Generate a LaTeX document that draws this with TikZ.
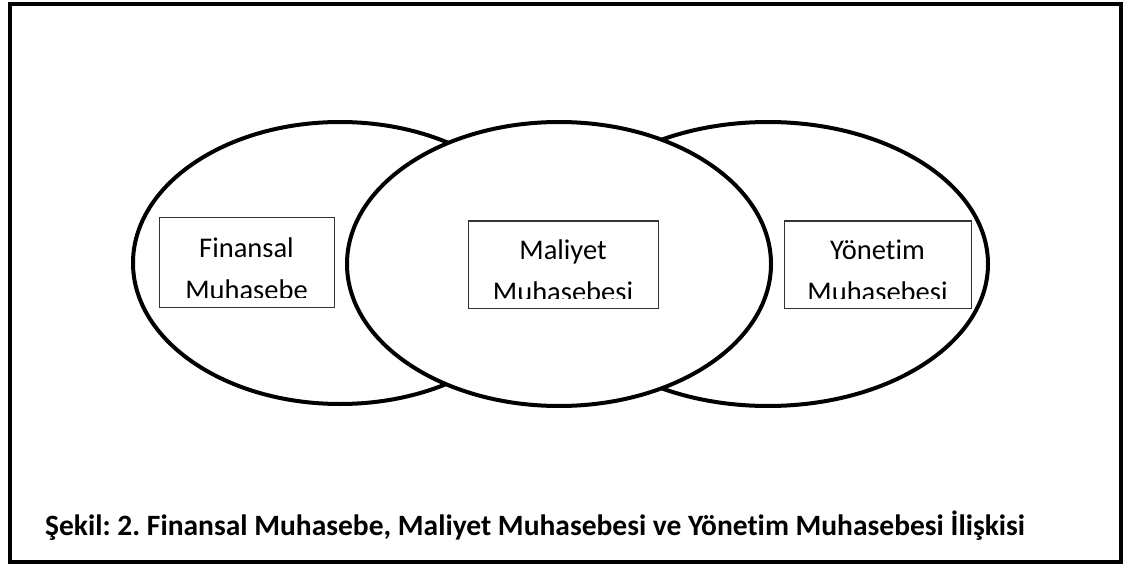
\documentclass[tikz,border=0pt]{standalone}
\usepackage{fontspec}
\setmainfont{Carlito}[Ligatures=NoCommon]
\usetikzlibrary{shapes.geometric}
\frenchspacing
\begin{document}
\begin{tikzpicture}[x=1pt,y=-1pt,
  frame/.style={draw=black,line width=4.5pt},
  oval/.style={ellipse,draw=black,line width=4pt,fill=white,inner sep=0pt},
  labelbox/.style={rectangle,draw=black!80,line width=1pt,fill=white,inner sep=0pt},
  boxtext/.style={anchor=base,inner sep=0pt,font=\fontsize{28.5}{34}\selectfont},
  cover/.style={rectangle,fill=white,inner sep=0pt},
  caption/.style={anchor=base west,inner sep=0pt,font=\fontsize{29.5}{34}\selectfont\bfseries}]
\useasboundingbox (0,0) rectangle (1132,564);

% outer frame
\node[frame,rectangle,inner sep=0pt,minimum width=1111pt,minimum height=558pt] (frame) at (565.5,283) {};

% the three overlapping areas; the middle one lies on top
\node[oval,minimum width=414pt,minimum height=282pt] (finarea) at (340,263) {};
\node[oval,minimum width=440pt,minimum height=284pt] (yonarea) at (768,264) {};
\node[oval,minimum width=424pt,minimum height=284pt] (malarea) at (559,264) {};

% label boxes
\node[labelbox,minimum width=175pt,minimum height=89pt] (finbox) at (246.5,262.5) {};
\node[labelbox,minimum width=190pt,minimum height=87pt] (malbox) at (563,264.5) {};
\node[labelbox,minimum width=187pt,minimum height=87pt] (yonbox) at (877.5,264.5) {};

% box texts, second line trimmed at the bottom like a text frame
\node[boxtext] (fin1) at (246.5,257) {Finansal};
\node[boxtext] (fin2) at (246.5,299) {Muhasebe};
\node[cover,minimum width=173pt,minimum height=9pt,anchor=north] (fincut) at (246.5,297.5) {};

\node[boxtext] (mal1) at (563,259) {Maliyet};
\node[boxtext] (mal2) at (563,301) {Muhasebesi};
\node[cover,minimum width=188pt,minimum height=9pt,anchor=north] (malcut) at (563,298.5) {};

\node[boxtext] (yon1) at (877.5,259) {Yönetim};
\node[boxtext] (yon2) at (877.5,301) {Muhasebesi};
\node[cover,minimum width=185pt,minimum height=9pt,anchor=north] (yoncut) at (877.5,298.5) {};

% caption
\node[caption] (cap) at (45,535) {Şekil: 2. Finansal Muhasebe, Maliyet Muhasebesi ve Yönetim Muhasebesi İlişkisi};
\end{tikzpicture}
\end{document}
